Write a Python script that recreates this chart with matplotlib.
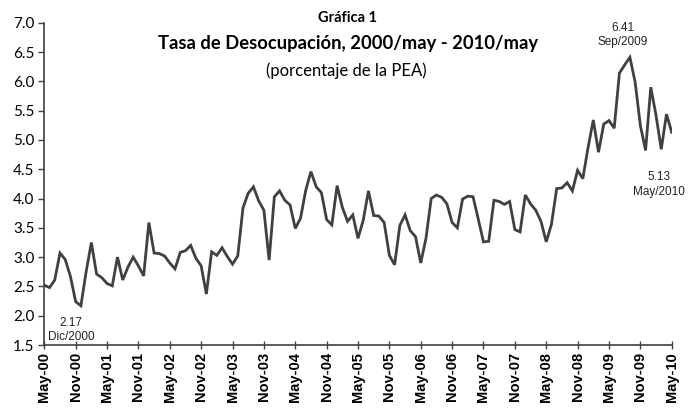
import matplotlib
matplotlib.use("Agg")
import matplotlib.pyplot as plt
import numpy as np

# Monthly unemployment rate, May-2000 .. May-2010
values = [
    2.52, 2.48, 2.61, 3.07, 2.96, 2.67, 2.24, 2.17, 2.75, 3.25, 2.71, 2.65,
    2.55, 2.51, 3.00, 2.61, 2.83, 3.00, 2.85, 2.68, 3.59, 3.07, 3.06, 3.02,
    2.90, 2.80, 3.08, 3.11, 3.20, 2.98, 2.85, 2.37, 3.09, 3.03, 3.16, 3.01,
    2.88, 3.02, 3.84, 4.09, 4.20, 3.96, 3.80, 2.95, 4.03, 4.13, 3.97, 3.89,
    3.49, 3.66, 4.14, 4.46, 4.20, 4.10, 3.64, 3.55, 4.22, 3.85, 3.61, 3.72,
    3.32, 3.63, 4.13, 3.71, 3.70, 3.59, 3.03, 2.87, 3.54, 3.72, 3.45, 3.35,
    2.90, 3.32, 4.00, 4.06, 4.02, 3.91, 3.59, 3.50, 3.99, 4.04, 4.03, 3.65,
    3.26, 3.27, 3.97, 3.95, 3.90, 3.95, 3.47, 3.43, 4.06, 3.91, 3.80, 3.61,
    3.26, 3.56, 4.17, 4.18, 4.27, 4.13, 4.48, 4.34, 4.87, 5.34, 4.79, 5.27,
    5.33, 5.20, 6.14, 6.28, 6.41, 5.99, 5.25, 4.82, 5.90, 5.42, 4.84, 5.44,
    5.13,
]
tick_labels = ["May-00", "Nov-00", "May-01", "Nov-01", "May-02", "Nov-02",
               "May-03", "Nov-03", "May-04", "Nov-04", "May-05", "Nov-05",
               "May-06", "Nov-06", "May-07", "Nov-07", "May-08", "Nov-08",
               "May-09", "Nov-09", "May-10"]
y_ticks = [1.5, 2.0, 2.5, 3.0, 3.5, 4.0, 4.5, 5.0, 5.5, 6.0, 6.5, 7.0]

notes = [
    (7, "2.17\nDic/2000"),
    (112, "6.41\nSep/2009"),
    (120, "5.13\nMay/2010"),
]

fig = plt.figure(figsize=(6.89, 4.13), dpi=100)
ax = fig.add_axes([0.0643, 0.1646, 0.9106, 0.7804])

x = np.arange(len(values))
ax.plot(x, values, color="#404040", lw=2.0, solid_joinstyle="miter")

ax.set_xlim(0, len(values) - 1)
ax.set_ylim(1.5, 7.0)
ax.set_yticks(y_ticks)
ax.set_yticklabels([f"{v:.1f}" for v in y_ticks], fontfamily="Lato", fontsize=11)
ax.set_xticks(np.arange(0, len(values), 6))
ax.set_xticklabels(tick_labels, rotation=90, fontweight="bold",
                   fontfamily="Liberation Sans", fontsize=10.5)
ax.tick_params(axis="x", direction="inout", length=6, width=1, color="#404040", pad=2)
ax.tick_params(axis="y", direction="out", length=4, width=1, color="#404040", pad=3)
for s in ["top", "right"]:
    ax.spines[s].set_visible(False)
for s in ["left", "bottom"]:
    ax.spines[s].set_color("#404040")
    ax.spines[s].set_linewidth(1.2)

# annotations (text positions in data coords)
note_pos = {7: (5.1, 1.75, "center"), 112: (110.7, 6.79, "center"),
            120: (122.6, 4.24, "right")}
for idx, txt in notes:
    px, py, ha = note_pos[idx]
    ax.text(px, py, txt, ha=ha, va="center", fontsize=8.5, multialignment="center",
            fontfamily="Liberation Sans", color="#222222", clip_on=False,
            linespacing=1.25)

fig.text(0.505, 1 - 18 / 413, "Gráfica 1", ha="center", va="center",
         fontfamily="Lato", fontweight="bold", fontsize=10.5)
fig.text(0.505, 1 - 44 / 413, "Tasa de Desocupación, 2000/may - 2010/may",
         ha="center", va="center", fontfamily="Lato", fontweight="bold", fontsize=13.2)
fig.text(0.502, 1 - 71 / 413, "(porcentaje de la PEA)", ha="center", va="center",
         fontfamily="Lato", fontsize=12)

fig.savefig("out.png", dpi=100)
